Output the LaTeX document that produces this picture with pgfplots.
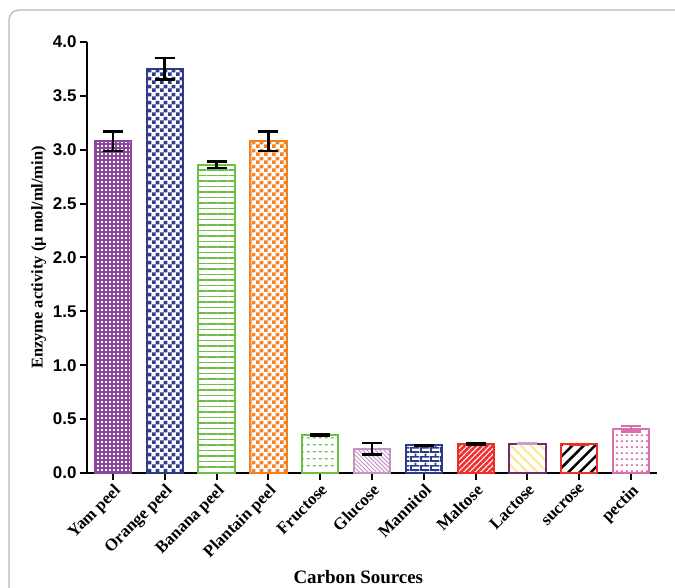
\documentclass[border=0pt]{standalone}
\usepackage{fontspec}
\setmainfont{Liberation Serif}
\newfontfamily\arialfont{Liberation Sans}
\usepackage{pgfplots}
\pgfplotsset{compat=1.18}
\usetikzlibrary{patterns,patterns.meta}

\definecolor{cYam}{HTML}{8A4799}
\definecolor{cBlue}{HTML}{2E3A8C}
\definecolor{cGreen}{HTML}{6DBE45}
\definecolor{cOrange}{HTML}{F58220}
\definecolor{cGlucose}{HTML}{C594C5}
\definecolor{cRed}{HTML}{EE2D2D}
\definecolor{cLacOut}{HTML}{6E2C6E}
\definecolor{cLacFill}{HTML}{F7E98E}
\definecolor{cLacErr}{HTML}{C8A0C8}
\definecolor{cPectin}{HTML}{DA6FB0}

\pgfdeclarepatternformonly{bigcheck}{\pgfpointorigin}{\pgfqpoint{8bp}{8bp}}{\pgfqpoint{8bp}{8bp}}{%
  \pgfpathrectangle{\pgfpointorigin}{\pgfqpoint{4bp}{4bp}}%
  \pgfpathrectangle{\pgfqpoint{4bp}{4bp}}{\pgfqpoint{4bp}{4bp}}\pgfusepath{fill}}
\pgfdeclarepatternformonly{dashrowsA}{\pgfpointorigin}{\pgfqpoint{6bp}{7bp}}{\pgfqpoint{6bp}{7bp}}{%
  \pgfpathrectangle{\pgfqpoint{1bp}{3bp}}{\pgfqpoint{3bp}{1.4bp}}\pgfusepath{fill}}
\pgfdeclarepatternformonly{dashrowsB}{\pgfpointorigin}{\pgfqpoint{5bp}{6bp}}{\pgfqpoint{5bp}{6bp}}{%
  \pgfpathrectangle{\pgfqpoint{1bp}{2.5bp}}{\pgfqpoint{2.5bp}{1.6bp}}\pgfusepath{fill}}
\pgfdeclarepatternformonly{mybricks}{\pgfpointorigin}{\pgfqpoint{10bp}{9bp}}{\pgfqpoint{10bp}{9bp}}{%
  \pgfsetlinewidth{1.8bp}%
  \pgfpathmoveto{\pgfqpoint{0bp}{1bp}}\pgfpathlineto{\pgfqpoint{10bp}{1bp}}%
  \pgfpathmoveto{\pgfqpoint{0bp}{5.5bp}}\pgfpathlineto{\pgfqpoint{10bp}{5.5bp}}%
  \pgfpathmoveto{\pgfqpoint{1bp}{1bp}}\pgfpathlineto{\pgfqpoint{1bp}{5.5bp}}%
  \pgfpathmoveto{\pgfqpoint{6bp}{5.5bp}}\pgfpathlineto{\pgfqpoint{6bp}{9bp}}%
  \pgfpathmoveto{\pgfqpoint{6bp}{0bp}}\pgfpathlineto{\pgfqpoint{6bp}{1bp}}%
  \pgfusepath{stroke}}

\begin{document}
\begin{tikzpicture}
\useasboundingbox (0,0) rectangle (675bp,588bp);
\fill[white] (0,0) rectangle (675bp,588bp);
\draw[gray!55, line width=1.2bp, rounded corners=10bp] (9bp,-10bp) -- (9bp,578bp) -- (700bp,578bp);
\begin{axis}[
  at={(87bp,115bp)}, anchor=south west,
  scale only axis, width=570bp, height=431bp,
  clip=false,
  ybar, bar width=0.7, bar shift=0pt,
  xmin=-0.5, xmax=10.5, ymin=0, ymax=4,
  axis x line*=bottom, axis y line*=left,
  axis line style={-, line width=2bp, black},
  tick align=outside, major tick length=7bp,
  tick style={line width=2bp, black},
  xtick={0,...,10},
  xticklabels={Yam peel, Orange peel, Banana peel, Plantain peel, Fructose, Glucose, Mannitol, Maltose, Lactose, sucrose, pectin},
  xticklabel style={rotate=45, anchor=north east, font=\bfseries\fontsize{17}{19}\selectfont, inner sep=2bp},
  ytick={0,0.5,...,4},
  yticklabel style={font=\arialfont\bfseries\fontsize{17}{19}\selectfont},
  /pgf/number format/assume math mode=true,
  yticklabel={\pgfmathprintnumber[fixed, fixed zerofill, precision=1]{\tick}},
  ylabel={Enzyme activity (µ mol/ml/min)},
  ylabel style={font=\bfseries\fontsize{16.5}{18}\selectfont},
  xlabel={Carbon Sources},
  xlabel style={at={(axis description cs:0.476,-0.241)}, anchor=center, font=\bfseries\fontsize{19}{21}\selectfont},
  error bars/y dir=both, error bars/y explicit,
  error bars/error bar style={line width=2.5bp, black},
  error bars/error mark options={rotate=90, mark size=10bp, line width=2.5bp, black},
]
\addplot[draw=cYam, line width=2bp, pattern={Hatch[angle=0, distance=4bp, line width=2.4bp]}, pattern color=cYam]
  coordinates {(0,3.08) +- (0,0.09)};
\addplot[draw=cBlue, line width=2bp, pattern=bigcheck, pattern color=cBlue]
  coordinates {(1,3.75) +- (0,0.10)};
\addplot[draw=cGreen, line width=2bp, pattern={Lines[angle=0, distance=5.5bp, line width=1.1bp]}, pattern color=cGreen]
  coordinates {(2,2.86) +- (0,0.03)};
\addplot[draw=cOrange, line width=2bp, pattern=bigcheck, pattern color=cOrange]
  coordinates {(3,3.08) +- (0,0.09)};
\addplot[draw=cGreen, line width=2bp, pattern=dashrowsA, pattern color=cGreen]
  coordinates {(4,0.355) +- (0,0.006)};
\addplot[draw=cGlucose, line width=2bp, pattern={Lines[angle=-45, distance=3bp, line width=0.9bp]}, pattern color=cGlucose]
  coordinates {(5,0.225) +- (0,0.055)};
\addplot[draw=cBlue, line width=2bp, pattern=mybricks, pattern color=cBlue]
  coordinates {(6,0.257) +- (0,0.005)};
\addplot[draw=cRed, line width=2bp, pattern={Lines[angle=45, distance=4bp, line width=2.7bp]}, pattern color=cRed]
  coordinates {(7,0.27) +- (0,0.005)};
\addplot[draw=cLacOut, line width=2bp, pattern={Lines[angle=-45, distance=7bp, line width=2bp]}, pattern color=cLacFill,
  error bars/error bar style={line width=2.5bp, cLacErr}, error bars/error mark options={rotate=90, mark size=10bp, line width=2.5bp, cLacErr}]
  coordinates {(8,0.27) +- (0,0.003)};
\addplot[draw=cRed, line width=2bp, pattern={Lines[angle=45, distance=8bp, line width=2.5bp]}, pattern color=black,
  error bars/error bar style={line width=2.5bp, cRed}, error bars/error mark options={rotate=90, mark size=10bp, line width=2.5bp, cRed}]
  coordinates {(9,0.266) +- (0,0.003)};
\addplot[draw=cPectin, line width=2bp, pattern=dashrowsB, pattern color=cPectin,
  error bars/error bar style={line width=2.5bp, cPectin}, error bars/error mark options={rotate=90, mark size=10bp, line width=2.5bp, cPectin}]
  coordinates {(10,0.41) +- (0,0.025)};
\end{axis}
\end{tikzpicture}
\end{document}
